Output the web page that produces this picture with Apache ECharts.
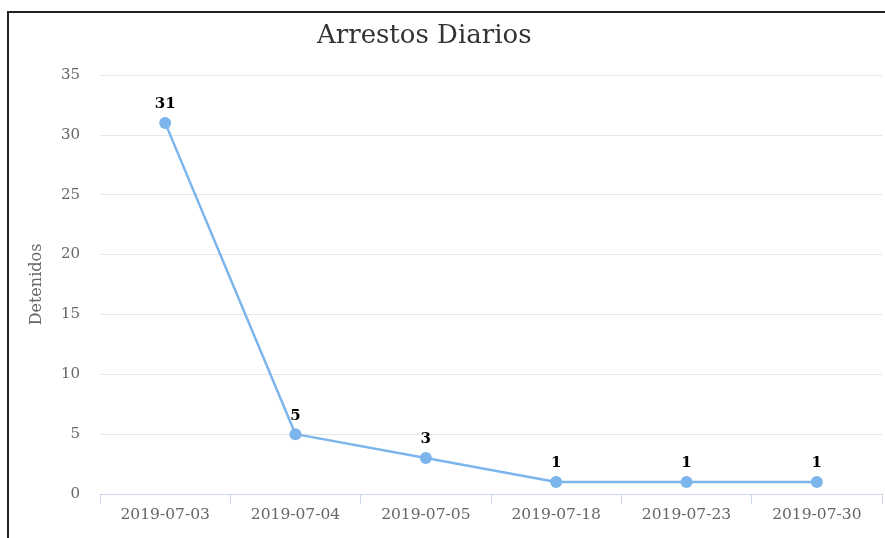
<!DOCTYPE html>
<html><head><meta charset="utf-8">
<script src="https://cdn.jsdelivr.net/npm/echarts@6/dist/echarts.min.js"></script>
<style>html,body{margin:0;padding:0;background:#fff}#c{width:885px;height:538px}</style>
</head><body><div id="c"></div>
<script>
const categories = ['2019-07-03','2019-07-04','2019-07-05','2019-07-18','2019-07-23','2019-07-30'];
const detenidos = [31, 5, 3, 1, 1, 1];
const yTicks = [0, 5, 10, 15, 20, 25, 30, 35];
const font = 'DejaVu Serif';
const chart = echarts.init(document.getElementById('c'), null, {renderer:'canvas'});
chart.setOption({
  animation: false,
  backgroundColor: '#fff',
  title: {text: 'Arrestos Diarios', left: 312, top: 18, textStyle: {fontFamily: font, fontSize: 26, fontWeight: 'normal', color: '#333'}},
  graphic: [
    {type: 'line', shape: {x1: 7, y1: 12, x2: 885, y2: 12}, style: {stroke: '#222', lineWidth: 2}},
    {type: 'line', shape: {x1: 8, y1: 11, x2: 8, y2: 538}, style: {stroke: '#222', lineWidth: 2}}
  ],
  grid: {left: 100, right: 3, top: 75, bottom: 44},
  xAxis: {
    type: 'category', data: categories, boundaryGap: true,
    axisLine: {lineStyle: {color: '#ccd6eb'}},
    axisTick: {show: true, alignWithLabel: false, length: 10, lineStyle: {color: '#ccd6eb'}},
    axisLabel: {fontFamily: font, fontSize: 15.5, color: '#666', margin: 13}
  },
  yAxis: {
    type: 'value', min: yTicks[0], max: yTicks[yTicks.length-1], interval: 5,
    name: 'Detenidos', nameLocation: 'middle', nameGap: 55,
    nameTextStyle: {fontFamily: font, fontSize: 16, color: '#666'},
    axisLine: {show: false}, axisTick: {show: false},
    axisLabel: {fontFamily: font, fontSize: 15, color: '#666', margin: 20},
    splitLine: {lineStyle: {color: '#e6e6e6'}}
  },
  series: [{
    type: 'line', data: detenidos, symbol: 'circle', symbolSize: 12,
    lineStyle: {color: '#7cb5ec', width: 2.5}, itemStyle: {color: '#7cb5ec'},
    label: {show: true, position: 'top', distance: 5, fontFamily: font, fontSize: 15, fontWeight: 'bold', color: '#000'}
  }]
});
</script></body></html>
